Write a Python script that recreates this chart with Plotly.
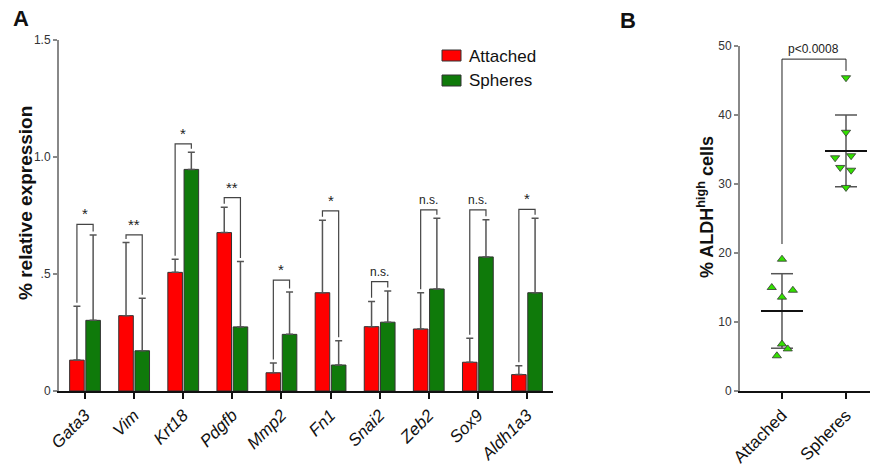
import plotly.graph_objects as go

# ---------------- Panel A data ----------------
genes = ["Gata3", "Vim", "Krt18", "Pdgfb", "Mmp2", "Fn1", "Snai2", "Zeb2", "Sox9", "Aldh1a3"]
attached = [0.132, 0.322, 0.507, 0.677, 0.078, 0.420, 0.275, 0.265, 0.123, 0.070]
attached_err = [0.230, 0.313, 0.056, 0.108, 0.042, 0.310, 0.108, 0.155, 0.102, 0.038]
spheres = [0.302, 0.172, 0.947, 0.274, 0.242, 0.111, 0.294, 0.436, 0.573, 0.420]
spheres_err = [0.365, 0.224, 0.073, 0.279, 0.181, 0.104, 0.133, 0.302, 0.159, 0.318]
bracket_top = [0.712, 0.667, 1.056, 0.826, 0.474, 0.770, 0.467, 0.774, 0.774, 0.776]
sig_labels = ["*", "**", "*", "**", "*", "*", "n.s.", "n.s.", "n.s.", "*"]
ytick_vals_a = [0, 0.5, 1.0, 1.5]
ytick_text_a = ["0", ".5", "1.0", "1.5"]

# ---------------- Panel B data ----------------
groups_b = ["Attached", "Spheres"]
attached_pts = [19.1, 15.0, 14.6, 13.6, 6.8, 6.1, 5.1]
attached_jitter = [0.0, -0.16, 0.17, 0.0, 0.0, 0.09, -0.08]
spheres_pts = [45.4, 37.5, 33.8, 34.1, 32.4, 32.0, 29.5]
spheres_jitter = [0.0, 0.0, -0.17, 0.08, -0.09, 0.08, 0.0]
group_mean = [11.6, 34.8]
group_sd = [5.4, 5.2]
p_text = "p<0.0008"
p_bracket = [21.3, 48.1, 46.4]  # left leg bottom, top, right leg bottom

FONT = "Liberation Sans, Arial, sans-serif"
RED = "#ff0000"
GREEN = "#0f7a0a"
PT_GREEN = "#33e000"

# page has an 8px body margin: figure sized to fit the window
OFFS = 8
W, H = 878 - OFFS, 475 - OFFS
def px(x):
    return (x - OFFS) / W
def py(y):
    return 1 - (y - OFFS) / H

BARGAP = 0.34
OFF = (1 - BARGAP) / 4  # center offset of each bar in a group
GAP = 0.015

fig = go.Figure()
idx = list(range(len(genes)))

fig.add_trace(go.Bar(
    x=idx, y=attached, name="Attached",
    marker=dict(color=RED, line=dict(color="#333333", width=1)),
    error_y=dict(type="data", array=attached_err, arrayminus=[0] * len(genes), symmetric=False,
                 color="#555555", thickness=1.5, width=3.5),
    xaxis="x", yaxis="y", showlegend=False))
fig.add_trace(go.Bar(
    x=idx, y=spheres, name="Spheres",
    marker=dict(color=GREEN, line=dict(color="#333333", width=1)),
    error_y=dict(type="data", array=spheres_err, arrayminus=[0] * len(genes), symmetric=False,
                 color="#555555", thickness=1.5, width=3.5),
    xaxis="x", yaxis="y", showlegend=False))

# significance brackets
bx, by = [], []
for i in idx:
    xl, xr = i - OFF, i + OFF
    yl = attached[i] + attached_err[i] + GAP
    yr = spheres[i] + spheres_err[i] + GAP
    bx += [xl, xl, xr, xr, None]
    by += [yl, bracket_top[i], bracket_top[i], yr, None]
fig.add_trace(go.Scatter(x=bx, y=by, mode="lines", line=dict(color="#444444", width=1.2),
                         xaxis="x", yaxis="y", showlegend=False, hoverinfo="skip"))

annotations = []
for i in idx:
    lab = sig_labels[i]
    annotations.append(dict(
        x=i, y=bracket_top[i], xref="x", yref="y", text=lab, showarrow=False,
        xanchor="center", yanchor="bottom", yshift=0 if lab != "n.s." else 1,
        font=dict(family=FONT, size=15 if lab != "n.s." else 12, color="#222222")))

# ---------------- Panel B traces ----------------
pts_sets = [attached_pts, spheres_pts]
jit_sets = [attached_jitter, spheres_jitter]
symbols = ["triangle-up", "triangle-down"]
CAP = 0.172
MEANW = 0.328
for g in range(2):
    m, s = group_mean[g], group_sd[g]
    fig.add_trace(go.Scatter(
        x=[g, g, None, g - CAP, g + CAP, None, g - CAP, g + CAP],
        y=[m - s, m + s, None, m + s, m + s, None, m - s, m - s],
        mode="lines", line=dict(color="#555555", width=1.5),
        xaxis="x2", yaxis="y2", showlegend=False, hoverinfo="skip"))
    fig.add_trace(go.Scatter(
        x=[g - MEANW, g + MEANW], y=[m, m], mode="lines",
        line=dict(color="#111111", width=2),
        xaxis="x2", yaxis="y2", showlegend=False, hoverinfo="skip"))
for g in range(2):
    fig.add_trace(go.Scatter(
        x=[g + j for j in jit_sets[g]], y=pts_sets[g], mode="markers", name=groups_b[g],
        marker=dict(symbol=symbols[g], size=8, color=PT_GREEN, line=dict(color="#333333", width=0.8)),
        xaxis="x2", yaxis="y2", showlegend=False))

# p-value bracket
fig.add_trace(go.Scatter(
    x=[0, 0, 1, 1], y=[p_bracket[0], p_bracket[1], p_bracket[1], p_bracket[2]], mode="lines",
    line=dict(color="#222222", width=1), xaxis="x2", yaxis="y2", showlegend=False, hoverinfo="skip"))
annotations.append(dict(x=0.5, y=p_bracket[1], xref="x2", yref="y2", text=p_text, showarrow=False,
                        xanchor="center", yanchor="bottom", yshift=1,
                        font=dict(family=FONT, size=12, color="#222222")))

# legend (drawn)
shapes = [
    dict(type="rect", xref="paper", yref="paper", x0=px(442), x1=px(461), y0=py(61), y1=py(50),
         fillcolor=RED, line=dict(color="#333333", width=1)),
    dict(type="rect", xref="paper", yref="paper", x0=px(442), x1=px(461), y0=py(86), y1=py(75),
         fillcolor=GREEN, line=dict(color="#333333", width=1)),
]
annotations += [
    dict(x=px(467), y=py(56), xref="paper", yref="paper", text="Attached", showarrow=False,
         xanchor="left", yanchor="middle", font=dict(family=FONT, size=17, color="#111111")),
    dict(x=px(467), y=py(81), xref="paper", yref="paper", text="Spheres", showarrow=False,
         xanchor="left", yanchor="middle", font=dict(family=FONT, size=17, color="#111111")),
    dict(x=px(25), y=py(203), xref="paper", yref="paper", text="<b>% relative expression</b>",
         xanchor="center", yanchor="middle",
         textangle=-90, showarrow=False, font=dict(family=FONT, size=19, color="#111111")),
    dict(x=px(705), y=py(207), xref="paper", yref="paper", text="<b>% ALDH<sup>high</sup> cells</b>",
         xanchor="center", yanchor="middle",
         textangle=-90, showarrow=False, font=dict(family=FONT, size=18, color="#111111")),
    dict(x=px(21), y=py(19), xref="paper", yref="paper", text="<b>A</b>", showarrow=False,
         xanchor="center", yanchor="middle", font=dict(family=FONT, size=22, color="#111111")),
    dict(x=px(628), y=py(21), xref="paper", yref="paper", text="<b>B</b>", showarrow=False,
         xanchor="center", yanchor="middle", font=dict(family=FONT, size=22, color="#111111")),
]

fig.update_layout(
    width=W, height=H,
    margin=dict(l=0, r=0, t=0, b=0, autoexpand=False),
    paper_bgcolor="white", plot_bgcolor="white",
    barmode="group", bargap=BARGAP, bargroupgap=0.1,
    font=dict(family=FONT, color="#222222"),
    xaxis=dict(domain=[px(59), px(553)], range=[-0.53, 9.53], tickvals=idx,
               ticktext=["<i>%s</i>" % g for g in genes], tickangle=-45,
               tickfont=dict(family=FONT, size=17, color="#111111"),
               showline=True, linecolor="#111111", linewidth=1.5, ticks="outside", ticklen=6,
               tickcolor="#111111", tickwidth=1.5, showgrid=False, zeroline=False, anchor="y"),
    yaxis=dict(domain=[py(391), py(40)], range=[0, 1.5], tickvals=ytick_vals_a, ticktext=ytick_text_a,
               tickfont=dict(family=FONT, size=12, color="#333333"),
               showline=True, linecolor="#888888", linewidth=2, ticks="outside", ticklen=4,
               tickcolor="#888888", tickwidth=1.5, showgrid=False, zeroline=False, anchor="x"),
    xaxis2=dict(domain=[px(740), 1.0], range=[-0.656, 1.5], tickvals=[0, 1], ticktext=groups_b,
                tickangle=-45, tickfont=dict(family=FONT, size=17, color="#111111"),
                showline=True, linecolor="#111111", linewidth=1.5, ticks="outside", ticklen=6,
                tickcolor="#111111", tickwidth=1.5, showgrid=False, zeroline=False, anchor="y2"),
    yaxis2=dict(domain=[py(391), py(46)], range=[0, 50], tickvals=[0, 10, 20, 30, 40, 50],
                tickfont=dict(family=FONT, size=12, color="#333333"),
                showline=True, linecolor="#888888", linewidth=2, ticks="outside", ticklen=4,
                tickcolor="#888888", tickwidth=1.5, showgrid=False, zeroline=False, anchor="x2"),
    shapes=shapes, annotations=annotations,
)

fig.write_html("out.html")
